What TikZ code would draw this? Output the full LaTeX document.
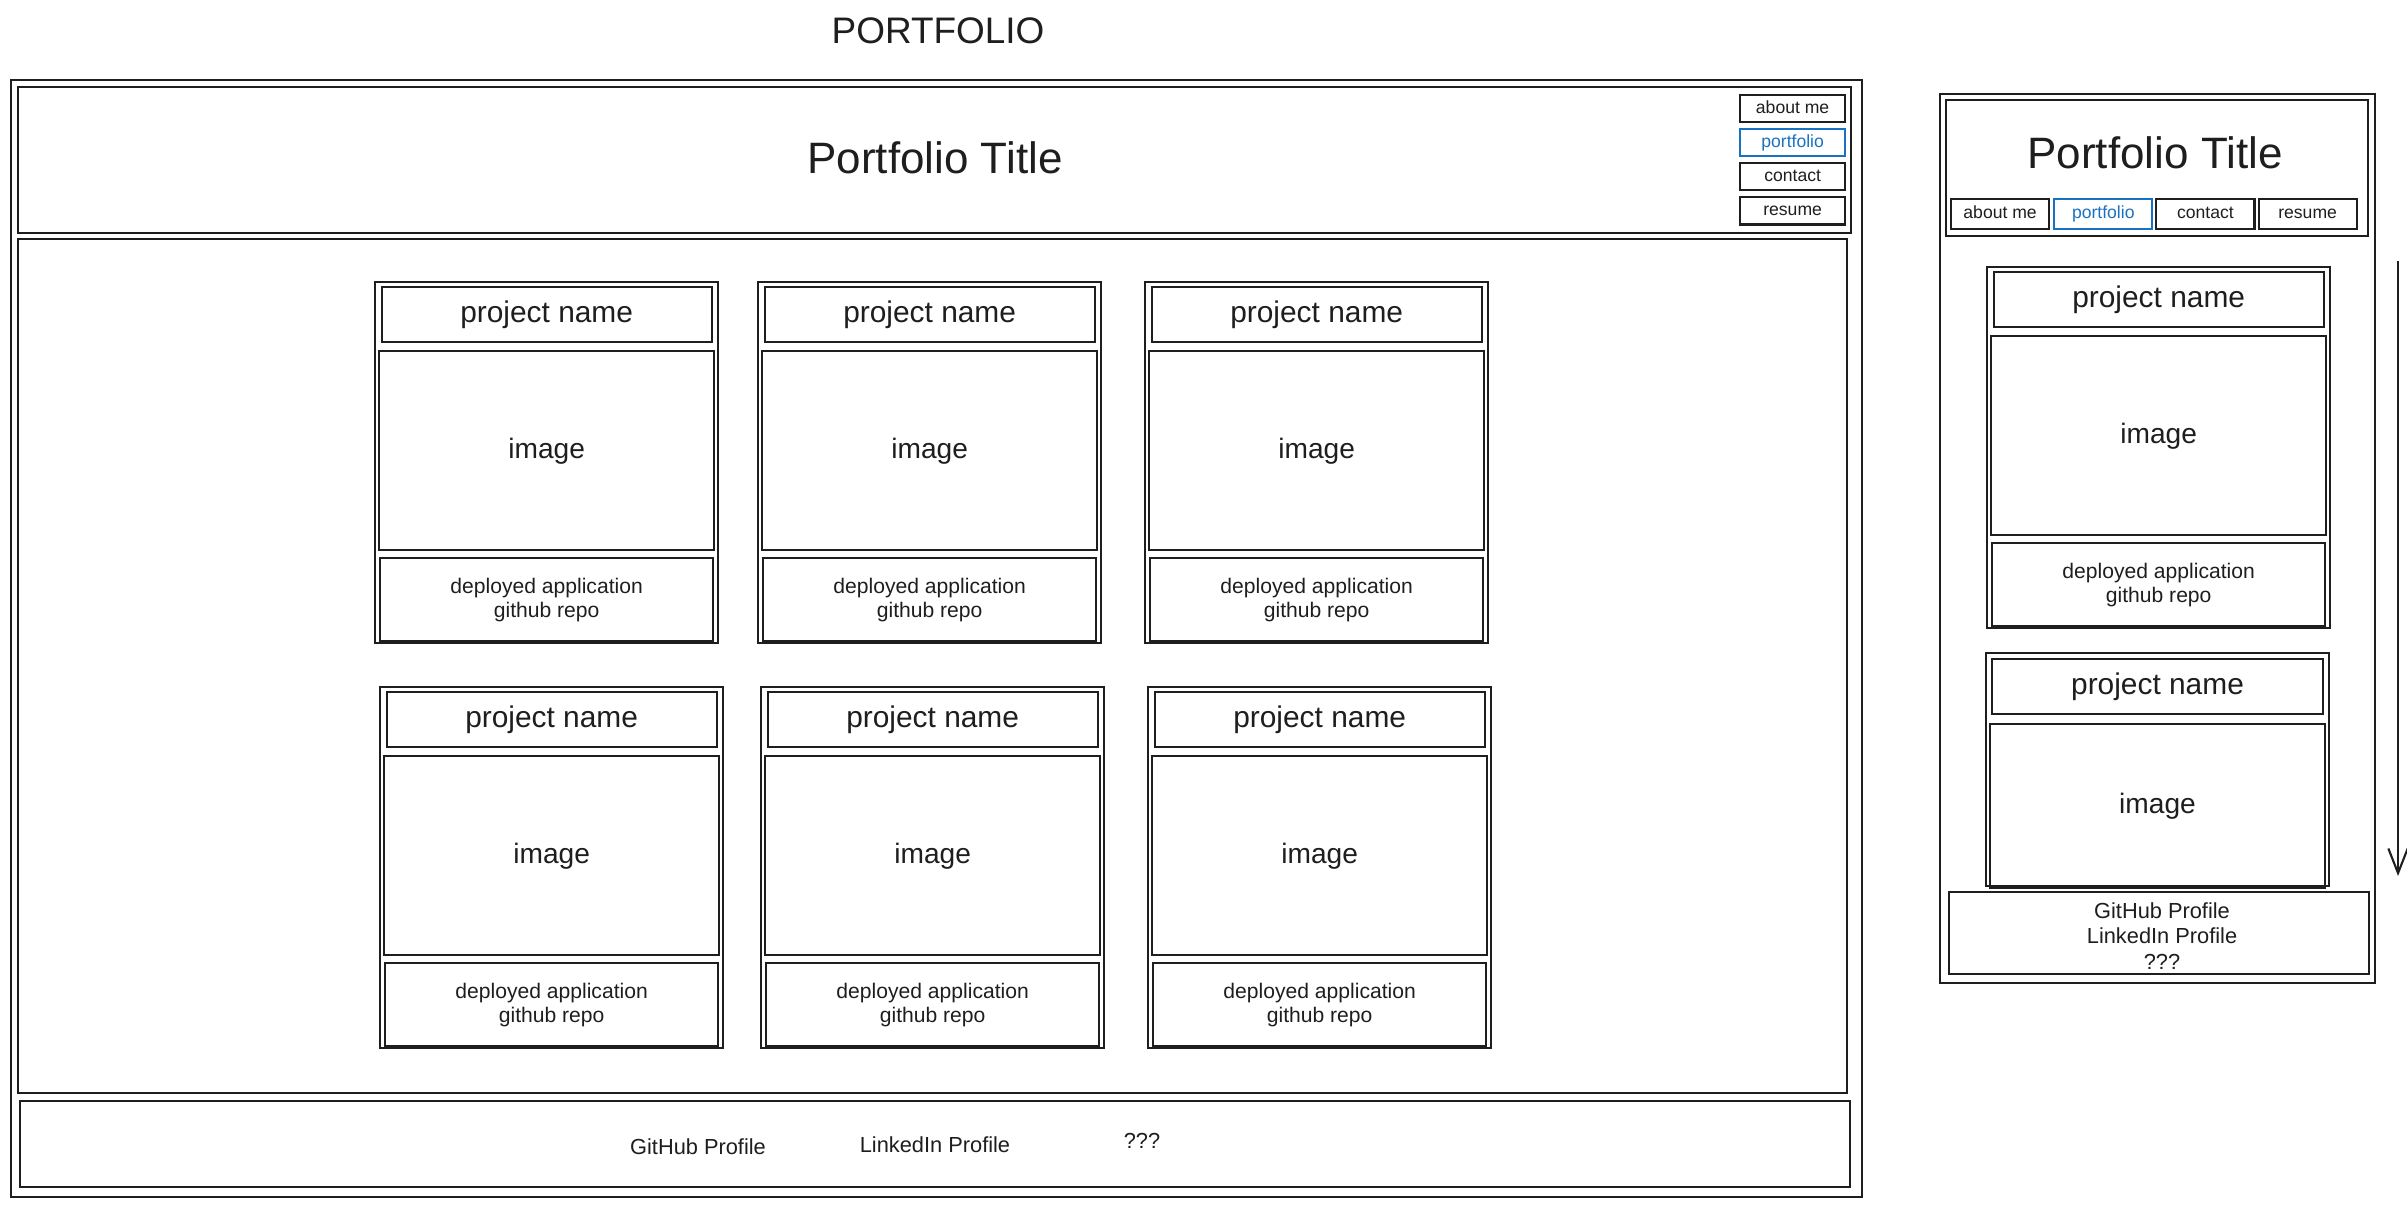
\documentclass[tikz,border=0pt]{standalone}
\usepackage{fontspec}
\setmainfont{Liberation Sans}
\usetikzlibrary{arrows.meta, positioning, fit}

\definecolor{ink}{HTML}{1E1E1E}
\definecolor{navblue}{HTML}{1971C2}

\tikzset{
  frame/.style={draw=ink, line width=0.6pt, inner sep=0pt},
  card/.style={frame, minimum width=3.43cm, minimum height=3.61cm},
  cell/.style={frame, text=ink, align=center},
  namefont/.style={font=\fontsize{8.5}{10}\selectfont},
  imagefont/.style={font=\fontsize{8}{10}\selectfont},
  linkfont/.style={font=\fontsize{6}{7}\selectfont},
  navbtn/.style={frame, text=ink, minimum width=1.05cm, minimum height=0.27cm, text height=3.8pt, text depth=1pt, font=\fontsize{5}{6}\selectfont},
  mobnav/.style={navbtn, minimum width=0.98cm, minimum height=0.30cm},
  bigtitle/.style={text=ink, font=\fontsize{12.5}{14}\selectfont},
  heading/.style={text=ink, font=\fontsize{10.5}{12}\selectfont},
  small/.style={text=ink, font=\fontsize{6.2}{7.3}\selectfont, align=center},
  scroll/.style={draw=ink, line width=0.6pt, -{Straight Barb[length=7pt, width=5.5pt]}}
}

\begin{document}
\begin{tikzpicture}[x=0.01cm, y=-0.01cm]
\useasboundingbox (0,0) rectangle (2407,1207);
\node[heading] (pagetitle) at (938,31) {PORTFOLIO};

% desktop layout
\node[frame, fit={(11,80) (1862,1197)}] (desk) {};
\node[frame, fit={(18,87) (1851,233)}] (deskhead) {};
\node[bigtitle] (desktitle) at (935,158) {Portfolio Title};
\node[navbtn, anchor=north west] (about) at (1739,94) {about me};
\node[navbtn, draw=navblue, text=navblue, below=0.05cm of about] (portf) {portfolio};
\node[navbtn, below=0.05cm of portf] (contact) {contact};
\node[navbtn, below=0.05cm of contact] (resume) {resume};
\node[frame, fit={(18,239) (1847,1093)}] (deskbody) {};
\node[frame, fit={(20,1101) (1850,1187)}] (deskfoot) {};
\node[small] (github) at (698,1147) {GitHub Profile};
\node[small] (linkedin) at (935,1145) {LinkedIn Profile};
\node[small] (other) at (1142,1141) {???};

% project cards (last one is the first mobile card)
\foreach \cx/\cy [count=\n] in {374/281, 757/281, 1144/281, 379/686, 760/686, 1147/686, 1986/266}{
  \node[card, anchor=north west] (card\n) at (\cx,\cy) {};
  \node[cell, namefont, minimum width=3.30cm, minimum height=0.55cm, below=0.05cm of card\n.north] (name\n) {project name};
  \node[cell, imagefont, minimum width=3.35cm, minimum height=1.99cm, below=0.07cm of name\n] (image\n) {image};
  \node[cell, linkfont, minimum width=3.33cm, minimum height=0.83cm, below=0.06cm of image\n] (links\n) {deployed application\\github repo};
}

% mobile layout
\node[frame, fit={(1940,94) (2375,983)}] (mob) {};
\node[frame, fit={(1946,100) (2368,236)}] (mobhead) {};
\node[bigtitle] (mobtitle) at (2155,153) {Portfolio Title};
\node[mobnav, anchor=north west] (mabout) at (1950,198) {about me};
\node[mobnav, draw=navblue, text=navblue, right=0.03cm of mabout] (mportf) {portfolio};
\node[mobnav, right=0.02cm of mportf] (mcontact) {contact};
\node[mobnav, right=0.02cm of mcontact] (mresume) {resume};
\node[frame, fit={(1986,653) (2329,886)}] (card8) {};
\node[cell, namefont, minimum width=3.31cm, minimum height=0.55cm, below=0.06cm of card8.north] (name8) {project name};
\node[cell, imagefont, minimum width=3.35cm, minimum height=1.64cm, below=0.08cm of name8] (image8) {image};
\node[frame, fit={(1949,892) (2369,974)}] (mobfoot) {};
\node[small] (moblinks) at (2162,936) {GitHub Profile\\LinkedIn Profile\\???};

% scroll hint
\coordinate (scrolltop) at (2398,261);
\coordinate (scrollend) at (2398,876);
\draw[scroll] (scrolltop) -- (scrollend);
\end{tikzpicture}
\end{document}
